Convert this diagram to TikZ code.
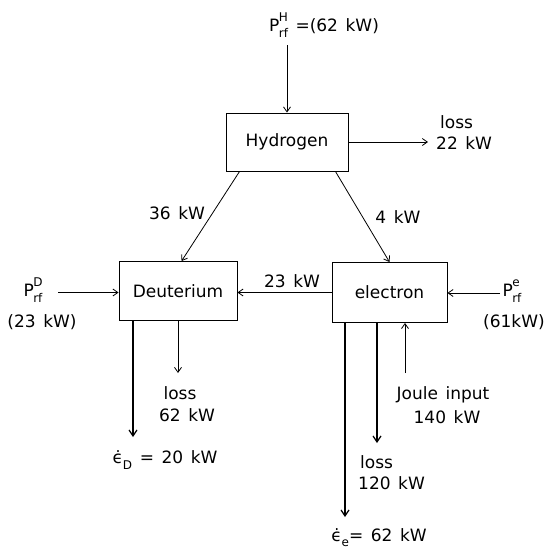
\documentclass[tikz,border=0pt]{standalone}
\usepackage{fontspec}
\setmainfont{DejaVu Sans}[WordSpace={1.4}]
\usetikzlibrary{arrows.meta,calc}
\newcommand\Prf[1]{P\kern-0.5pt\makebox[0pt][l]{\raisebox{0.6em}{\fontsize{12}{12}\selectfont #1}}\raisebox{-0.3em}{\fontsize{12}{12}\selectfont rf}}
\newcommand\edot[1]{ϵ̇\raisebox{-0.3em}{\fontsize{12}{12}\selectfont #1}}
\tikzset{
  box/.style={draw, line width=0.9pt, inner sep=0pt, font=\fontsize{17}{20}\selectfont},
  lbl/.style={inner sep=0pt, font=\fontsize{17}{20}\selectfont},
  flow/.style={line width=0.8pt, -{Straight Barb[length=5pt,width=7pt]}},
  thickflow/.style={line width=1.4pt, -{Straight Barb[length=6pt,width=8pt,line width=1.2pt]}},
}
\begin{document}
\begin{tikzpicture}[x=1pt,y=-1pt]
\useasboundingbox (0,0) rectangle (550,550);
% boxes
\node[box, minimum width=122pt, minimum height=58pt] (H) at (287,142) {Hydrogen};
\node[box, minimum width=118pt, minimum height=59pt] (D) at (178,291) {Deuterium};
\node[box, minimum width=115pt, minimum height=60pt] (E) at (389.5,292.5) {electron};
% top input
\node[lbl] (PH) at (324,25) {\Prf{H} =(62 kW)};
\coordinate (PHs) at (287,45);
\draw[flow] (PHs) -- (H.north);
% hydrogen loss
\coordinate (HL) at (428,142);
\draw[flow] (H.east) -- (HL);
\node[lbl, anchor=west] (HLa) at (440,122) {loss};
\node[lbl, anchor=west] (HLb) at (436,143) {22 kW};
% H -> D, H -> E
\coordinate (H1) at ($(H.south west)+(14,0)$);
\coordinate (H2) at ($(H.south east)+(-13,0)$);
\draw[flow] (H1) -- ($(D.north west)+(63,0)$);
\draw[flow] (H2) -- (E.north);
\node[lbl] (l36) at (177,213) {36 kW};
\node[lbl] (l4) at (398,217) {4 kW};
% E -> D
\draw[flow] (E.west) -- (D.east |- E.west);
\node[lbl] (l23) at (292,281) {23 kW};
% PD
\node[lbl] (PD) at (33,290) {\Prf{D}};
\node[lbl] (PDv) at (42,322) {(23 kW)};
\coordinate (PDs) at (58,292.5);
\draw[flow] (PDs) -- (D.west |- PDs);
% Pe
\node[lbl] (Pe) at (512,291) {\Prf{e}};
\node[lbl] (Pev) at (514,322) {(61kW)};
\coordinate (Pes) at (500,293);
\draw[flow] (Pes) -- (E.east |- Pes);
% D outputs
\coordinate (D1) at (133,437);
\coordinate (D2) at (178,373);
\draw[thickflow] (D.south -| D1) -- (D1);
\draw[flow] (D.south -| D2) -- (D2);
\node[lbl] (DLa) at (180,393) {loss};
\node[lbl] (DLb) at (187,415) {62 kW};
\node[lbl] (eD) at (165,460) {\edot{D} = 20 kW};
% E outputs
\coordinate (E1) at (345,517);
\coordinate (E2) at (377,443);
\coordinate (J) at (405,373);
\draw[thickflow] (E.south -| E1) -- (E1);
\draw[thickflow] (E.south -| E2) -- (E2);
\draw[flow] (J) -- (E.south -| J);
\node[lbl] (Ja) at (443,395) {Joule input};
\node[lbl] (Jb) at (447,417) {140 kW};
\node[lbl, anchor=west] (ELa) at (360,462) {loss};
\node[lbl, anchor=west] (ELb) at (358,483) {120 kW};
\node[lbl] (eE) at (379,538) {\edot{e}= 62 kW};
\end{tikzpicture}
\end{document}
